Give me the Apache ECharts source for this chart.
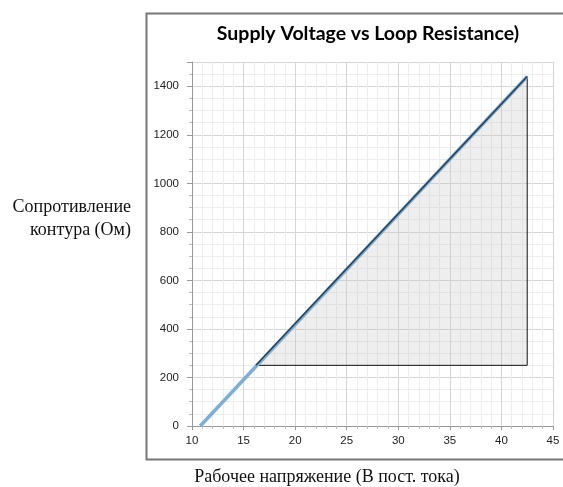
<!DOCTYPE html>
<html>
<head>
<meta charset="utf-8">
<script src="https://cdn.jsdelivr.net/npm/echarts@6/dist/echarts.min.js"></script>
<style>html,body{margin:0;padding:0;background:#fff;}#c{width:563px;height:487px;}</style>
</head>
<body>
<div id="c"></div>
<script>
const titleText = 'Supply Voltage vs Loop Resistance)';
const xName = 'Рабочее напряжение (В пост. тока)';
const yName = 'Сопротивление\nконтура (Ом)';
const lineVoltage = [10.8, 42.5];
const lineResistance = [0, 1440];
const zoneVoltage = [16.2, 42.5, 42.5];
const zoneResistance = [250, 1440, 250];
const xTicks = [10, 15, 20, 25, 30, 35, 40, 45];
const yTicks = [0, 200, 400, 600, 800, 1000, 1200, 1400];

const chart = echarts.init(document.getElementById('c'));
const linePts = lineVoltage.map((v, i) => [v, lineResistance[i]]);
const zonePts = zoneVoltage.map((v, i) => [v, zoneResistance[i]]);

chart.setOption({
  animation: false,
  graphic: [
    {type: 'rect', left: 144, top: 11, shape: {width: 500, height: 446},
     style: {fill: 'none', stroke: '#777', lineWidth: 2}, z: 100},
    {type: 'text', x: 368, y: 34,
     style: {text: titleText, font: 'bold 19.5px Lato', fill: '#000', align: 'center', verticalAlign: 'middle'}},
    {type: 'text', x: 131, y: 207,
     style: {text: 'Сопротивление', font: '18px "Liberation Serif"', fill: '#111', align: 'right', verticalAlign: 'middle'}},
    {type: 'text', x: 131, y: 230,
     style: {text: 'контура (Ом)', font: '18px "Liberation Serif"', fill: '#111', align: 'right', verticalAlign: 'middle'}},
    {type: 'text', x: 327, y: 477,
     style: {text: xName, font: '18px "Liberation Serif"', fill: '#111', align: 'center', verticalAlign: 'middle'}}
  ],
  grid: {left: 192, right: 10, top: 62, bottom: 61},
  xAxis: {
    type: 'value', min: xTicks[0], max: xTicks[xTicks.length - 1], interval: 5,
    axisLine: {show: true, lineStyle: {color: '#999'}},
    axisTick: {show: true, length: 4, lineStyle: {color: '#999'}},
    minorTick: {show: true, splitNumber: 5, length: 3, lineStyle: {color: '#bbb'}},
    axisLabel: {color: '#222', fontFamily: 'Liberation Sans', fontSize: 11.5, margin: 9},
    splitLine: {show: true, lineStyle: {color: '#d6d6d6'}},
    minorSplitLine: {show: true, lineStyle: {color: '#ededed'}}
  },
  yAxis: {
    type: 'value', min: 0, max: 1500, interval: 200,
    axisLine: {show: true, lineStyle: {color: '#999'}},
    axisTick: {show: true, length: 5, lineStyle: {color: '#999'}},
    minorTick: {show: true, splitNumber: 4, length: 3, lineStyle: {color: '#bbb'}},
    axisLabel: {color: '#222', fontFamily: 'Liberation Sans', fontSize: 11.5, margin: 13,
      formatter: v => yTicks.indexOf(v) >= 0 ? String(v) : ''},
    splitLine: {show: true, lineStyle: {color: '#d6d6d6'}},
    minorSplitLine: {show: true, lineStyle: {color: '#ededed'}}
  },
  series: [
    {
      type: 'custom', z: 1,
      renderItem: function (params, api) {
        const pts = zonePts.map(p => api.coord(p));
        return {
          type: 'group',
          children: [
            {type: 'polygon', shape: {points: pts}, style: {fill: 'rgba(200,200,200,0.3)', stroke: 'none'}},
            {type: 'polyline', shape: {points: [pts[1], pts[2], pts[0]]}, style: {fill: 'none', stroke: '#111', lineWidth: 1}}
          ]
        };
      },
      data: [0]
    },
    {type: 'line', data: linePts, symbol: 'none', z: 3,
     lineStyle: {color: '#7eaed3', width: 3.5}},
    {type: 'line', data: [zonePts[0], zonePts[1]], symbol: 'none', z: 4,
     lineStyle: {color: '#2c3d4f', width: 1.5}}
  ]
});
</script>
</body>
</html>
